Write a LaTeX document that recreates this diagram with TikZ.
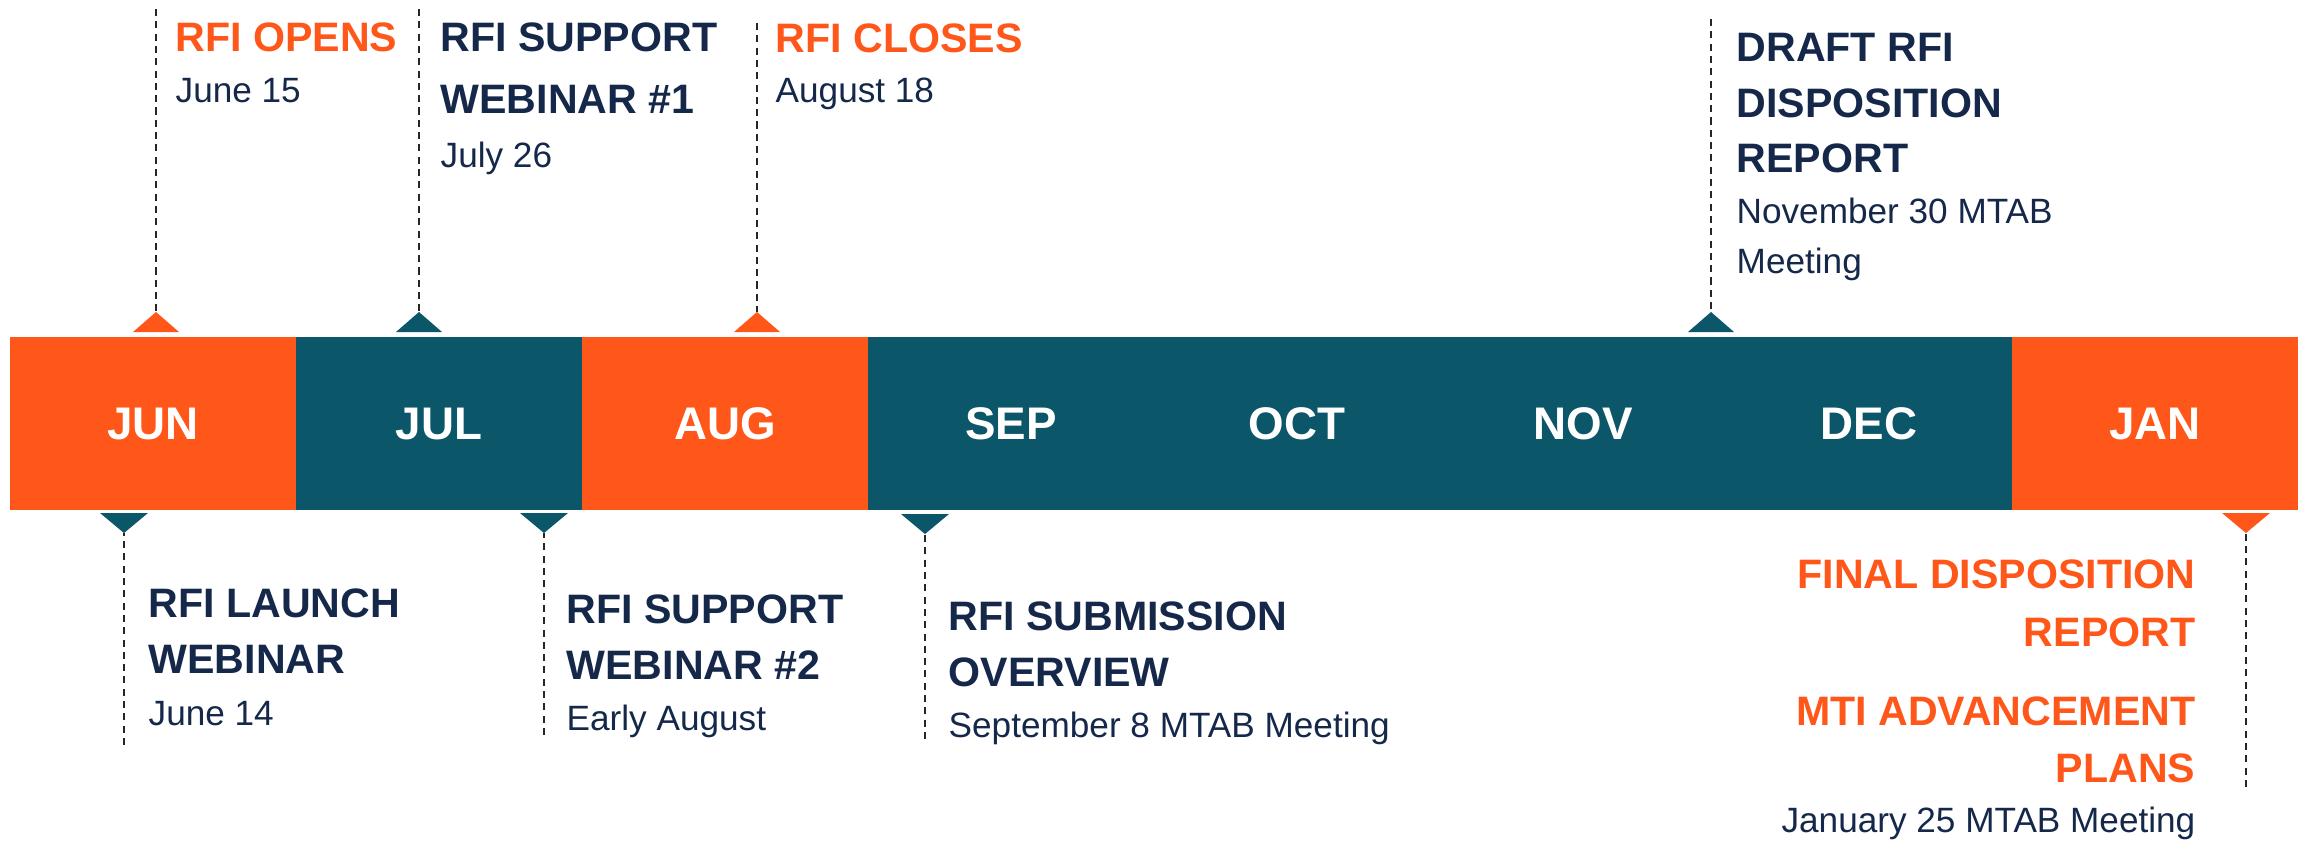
\documentclass[tikz,border=0pt]{standalone}
\usepackage{fontspec}
\setmainfont{Liberation Sans}
\definecolor{rfiorange}{RGB}{255,86,26}
\definecolor{rfiteal}{RGB}{11,86,104}
\definecolor{rfinavy}{RGB}{21,40,74}
\begin{document}
\begin{tikzpicture}[x=0.01cm,y=-0.01cm,
  ttl/.style={font=\fontsize{11.7}{14}\selectfont\bfseries, inner sep=0pt, anchor=base west},
  ttlr/.style={ttl, anchor=base east},
  dte/.style={font=\fontsize{10}{12}\selectfont, text=rfinavy, inner sep=0pt, anchor=base west},
  dter/.style={dte, anchor=base east},
  monthbox/.style={minimum width=2.86cm, minimum height=1.73cm, inner sep=0pt, outer sep=0pt,
     font=\fontsize{13}{15}\selectfont\bfseries, text=white},
  leader/.style={draw=black!85, line width=0.6pt, dash pattern=on 2pt off 1.5pt}]
\useasboundingbox (0,0) rectangle (2305,844);

% month bar
\foreach \i/\m/\c in {0/JUN/rfiorange,1/JUL/rfiteal,2/AUG/rfiorange,3/SEP/rfiteal,4/OCT/rfiteal,5/NOV/rfiteal,6/DEC/rfiteal,7/JAN/rfiorange}
  \node[monthbox, fill=\c] (m\i) at ({153+286*\i},423.5) {\m};

% apex coordinates and free ends of leaders
\coordinate (a1) at (156,312);  \coordinate (e1) at (156,9);
\coordinate (a2) at (419,312);  \coordinate (e2) at (419,9);
\coordinate (a3) at (757,312);  \coordinate (e3) at (757,23);
\coordinate (a4) at (1711,312); \coordinate (e4) at (1711,19);
\coordinate (a5) at (124,533);  \coordinate (e5) at (124,745);
\coordinate (a6) at (544,533);  \coordinate (e6) at (544,735);
\coordinate (a7) at (925,534);  \coordinate (e7) at (925,739);
\coordinate (a8) at (2246,533); \coordinate (e8) at (2246,787);

% leaders
\foreach \k in {1,...,8} \draw[leader] (e\k) -- (a\k);

% triangles (up)
\fill[rfiorange] (a1) -- ++(-23,20) -- ++(46,0) -- cycle;
\fill[rfiteal]   (a2) -- ++(-23,20) -- ++(46,0) -- cycle;
\fill[rfiorange] (a3) -- ++(-23,20) -- ++(46,0) -- cycle;
\fill[rfiteal]   (a4) -- ++(-23,20) -- ++(46,0) -- cycle;
% triangles (down)
\fill[rfiteal]   (a5) -- ++(-24,-20) -- ++(48,0) -- cycle;
\fill[rfiteal]   (a6) -- ++(-24,-20) -- ++(48,0) -- cycle;
\fill[rfiteal]   (a7) -- ++(-24,-20) -- ++(48,0) -- cycle;
\fill[rfiorange] (a8) -- ++(-24,-20) -- ++(48,0) -- cycle;

% top texts
\node[ttl, text=rfiorange] (t1a) at (175,51) {RFI OPENS};
\node[dte] (t1b) at (175,102) {June 15};

\node[ttl, text=rfinavy] (t2a) at (440,51) {RFI SUPPORT};
\node[ttl, text=rfinavy] (t2b) at (440,113) {WEBINAR \#1};
\node[dte] (t2c) at (440,167) {July 26};

\node[ttl, text=rfiorange] (t3a) at (775,52) {RFI CLOSES};
\node[dte] (t3b) at (775,102) {August 18};

\node[ttl, text=rfinavy] (t4a) at (1736,61) {DRAFT RFI};
\node[ttl, text=rfinavy] (t4b) at (1736,117) {DISPOSITION};
\node[ttl, text=rfinavy] (t4c) at (1736,172) {REPORT};
\node[dte] (t4d) at (1736,223) {November 30 MTAB};
\node[dte] (t4e) at (1736,273) {Meeting};

% bottom texts
\node[ttl, text=rfinavy] (t5a) at (148,617) {RFI LAUNCH};
\node[ttl, text=rfinavy] (t5b) at (148,673) {WEBINAR};
\node[dte] (t5c) at (148,725) {June 14};

\node[ttl, text=rfinavy] (t6a) at (566,623) {RFI SUPPORT};
\node[ttl, text=rfinavy] (t6b) at (566,679) {WEBINAR \#2};
\node[dte] (t6c) at (566,730) {Early August};

\node[ttl, text=rfinavy] (t7a) at (948,630) {RFI SUBMISSION};
\node[ttl, text=rfinavy] (t7b) at (948,686) {OVERVIEW};
\node[dte] (t7c) at (948,737) {September 8 MTAB Meeting};

\node[ttlr, text=rfiorange] (t8a) at (2196,588) {FINAL DISPOSITION};
\node[ttlr, text=rfiorange] (t8b) at (2196,646) {REPORT};
\node[ttlr, text=rfiorange] (t8c) at (2196,725) {MTI ADVANCEMENT};
\node[ttlr, text=rfiorange] (t8d) at (2196,782) {PLANS};
\node[dter] (t8e) at (2196,832) {January 25 MTAB Meeting};
\end{tikzpicture}
\end{document}
